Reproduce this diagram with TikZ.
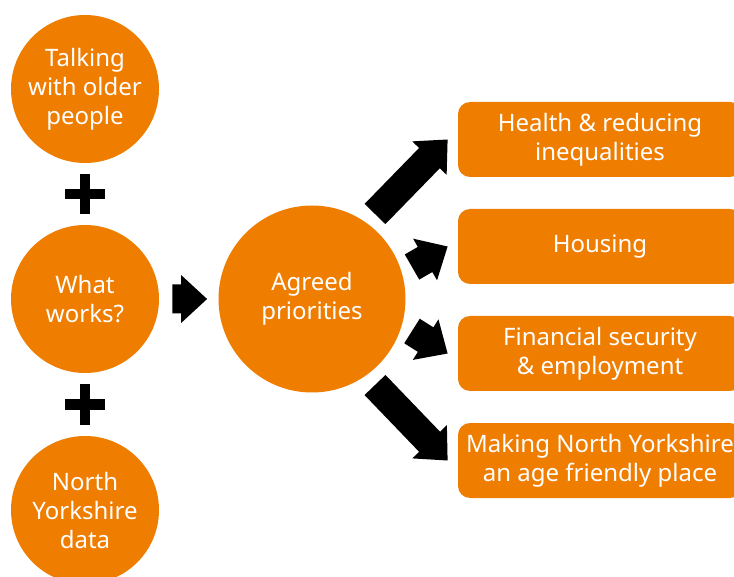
\documentclass[tikz,border=0pt]{standalone}
\usepackage{fontspec}
\setmainfont{Noto Sans}
\usepackage{tikz}
\usetikzlibrary{calc}
\definecolor{nyorange}{RGB}{239,125,0}

% filled block arrow from #1 to #2
\newcommand{\blockarrow}[2]{%
  \coordinate (hb) at ($(#2)!13pt!(#1)$);
  \fill ($(#1)!7.25pt!90:(#2)$) -- ($(hb)!7.25pt!90:(#2)$) -- ($(hb)!12pt!90:(#2)$)
    -- (#2) -- ($(hb)!12pt!-90:(#2)$) -- ($(hb)!7.25pt!-90:(#2)$)
    -- ($(#1)!7.25pt!-90:(#2)$) -- cycle;}

\begin{document}
\begin{tikzpicture}[x=0.5pt, y=-0.5pt]

                \tikzstyle{blob} = [circle, fill=nyorange, text=white, inner sep=0pt, minimum size=74pt, align=center, font=\fontsize{12}{14.5}\selectfont]
                \tikzstyle{prio} = [rectangle, rounded corners=6pt, fill=nyorange, text=white, inner sep=0pt, minimum width=142pt, minimum height=37.5pt, align=center, font=\fontsize{12}{14.5}\selectfont]
                \tikzstyle{plus} = [line width=5pt]

                \useasboundingbox (0,0) rectangle (734,577);

                \node [blob](talk) at (85,89) {Talking\\with older\\people};
                \node [blob](works) at (85,299) {What\\works?};
                \node [blob](data) at (85,510) {North\\Yorkshire\\data};
                \node [blob, minimum size=93.5pt](agreed) at (312,299) {Agreed\\priorities};

                % plus signs between the bubbles
                \coordinate (p1) at ($(talk)!0.5!(works)$);
                \coordinate (p2) at ($(works)!0.5!(data)$);
                \foreach \p in {p1, p2}
                {
                        \draw [plus] ($(\p)+(-20,0)$) -- ($(\p)+(20,0)$);
                        \draw [plus] ($(\p)+(0,-20)$) -- ($(\p)+(0,20)$);
                }

                \foreach \i/\t in {1/{Health \& reducing\\inequalities}, 2/Housing, 3/{Financial security\\\& employment}, 4/{Making North Yorkshire\\an age friendly place}}
                {
                        \node [prio](b\i) at (600, 32.5+107*\i) {\t};
                        \coordinate (h\i) at ($(b\i.west)+(-10,0)$);
                }

                \coordinate (t0) at ($(works.east)+(13,0)$);
                \coordinate (h0) at ($(agreed.west)+(-11,0)$);
                \coordinate (t1) at ($(agreed)+(63,-85)$);
                \coordinate (t2) at ($(agreed)+(100,-32)$);
                \coordinate (t3) at ($(agreed)+(100,32)$);
                \coordinate (t4) at ($(agreed)+(63,86)$);

                \foreach \i in {0,...,4}
                {
                        \blockarrow{t\i}{h\i}
                }
        \end{tikzpicture}
\end{document}
